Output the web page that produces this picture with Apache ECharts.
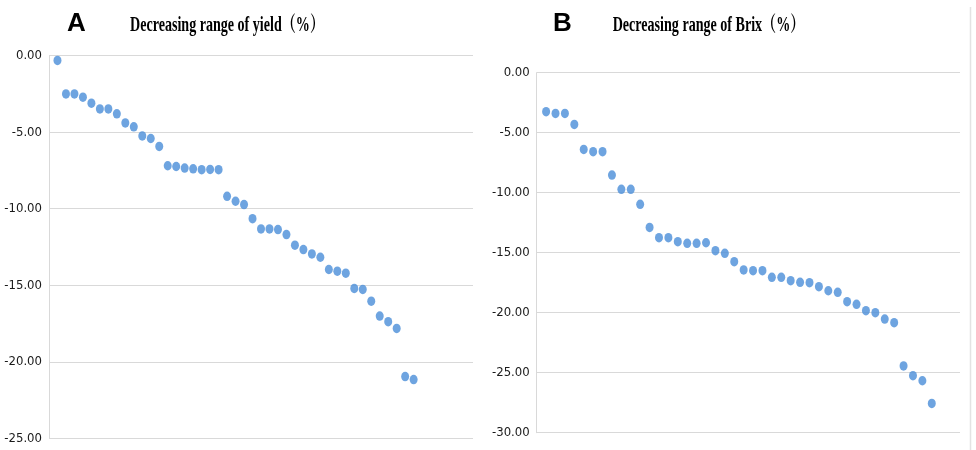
<!DOCTYPE html>
<html>
<head>
<meta charset="utf-8">
<script src="https://cdn.jsdelivr.net/npm/echarts@6/dist/echarts.min.js"></script>
<style>
html,body{margin:0;padding:0;background:#fff;}
#chart{width:976px;height:450px;}
</style>
</head>
<body>
<div id="chart"></div>
<script>
// ---- Data ----
const titleA = 'Decreasing range of yield（%）';
const titleB = 'Decreasing range of Brix（%）';
const panelLetters = ['A', 'B'];

const yieldValues = [
  -0.31, -2.50, -2.50, -2.71, -3.10, -3.48, -3.48, -3.80, -4.39, -4.65,
  -5.24, -5.41, -5.93, -7.19, -7.24, -7.34, -7.39, -7.45, -7.43, -7.45,
  -9.19, -9.51, -9.73, -10.65, -11.32, -11.32, -11.36, -11.69, -12.38, -12.67,
  -12.95, -13.17, -13.97, -14.08, -14.21, -15.21, -15.27, -16.04, -17.01, -17.38,
  -17.82, -20.97, -21.16
];

const brixValues = [
  -3.25, -3.39, -3.39, -4.31, -6.39, -6.58, -6.58, -8.53, -9.72, -9.72,
  -10.97, -12.89, -13.75, -13.75, -14.08, -14.22, -14.22, -14.17, -14.83, -15.05,
  -15.75, -16.44, -16.50, -16.50, -17.05, -17.05, -17.33, -17.47, -17.50, -17.83,
  -18.17, -18.30, -19.08, -19.30, -19.83, -20.00, -20.53, -20.83, -24.44, -25.25,
  -25.67, -27.56
];

const yieldAxis = { min: -25, max: 0, step: 5 };
const brixAxis = { min: -30, max: 0, step: 5 };
const yieldXMax = 50;
const brixXMax = 45;

// ---- Styles ----
const dotColor = '#4a8dd8';
const gridColor = '#d9d9d9';
const labelFont = "'Liberation Sans Narrow', 'DejaVu Sans Condensed', 'Liberation Sans', sans-serif";
const titleFont = "'Liberation Serif', 'Noto Serif CJK SC', 'Noto Sans CJK SC', serif";

function toPoints(arr) {
  return arr.map((v, i) => [i + 1, v]);
}

function yAxisCfg(idx, ax) {
  return {
    type: 'value',
    gridIndex: idx,
    min: ax.min,
    max: ax.max,
    interval: ax.step,
    axisLine: { show: true, lineStyle: { color: gridColor, width: 1 } },
    axisTick: { show: false },
    splitLine: { show: true, lineStyle: { color: gridColor, width: 1 } },
    axisLabel: {
      margin: 7,
      fontFamily: labelFont,
      fontSize: 13,
      color: '#1a1a1a',
      formatter: v => v.toFixed(2)
    }
  };
}

function xAxisCfg(idx, max) {
  return {
    type: 'value',
    gridIndex: idx,
    min: 0,
    max: max,
    show: false
  };
}

const chart = echarts.init(document.getElementById('chart'), null, { renderer: 'canvas' });

chart.setOption({
  backgroundColor: '#fff',
  animation: false,
  grid: [
    { left: 49, top: 55.7, width: 424, height: 382.6 },
    { left: 536.7, top: 72.7, width: 423.3, height: 360 }
  ],
  xAxis: [xAxisCfg(0, yieldXMax), xAxisCfg(1, brixXMax)],
  yAxis: [yAxisCfg(0, yieldAxis), yAxisCfg(1, brixAxis)],
  series: [
    {
      type: 'scatter',
      xAxisIndex: 0, yAxisIndex: 0,
      data: toPoints(yieldValues),
      symbol: 'circle',
      symbolSize: [8, 9.5],
      itemStyle: { color: dotColor }
    },
    {
      type: 'scatter',
      xAxisIndex: 1, yAxisIndex: 1,
      data: toPoints(brixValues),
      symbol: 'circle',
      symbolSize: [8, 9.5],
      itemStyle: { color: dotColor }
    }
  ],
  graphic: [
    {
      type: 'text', x: 67, y: 24,
      style: { text: panelLetters[0], fontFamily: "'Liberation Sans', Arial, sans-serif", fontWeight: 'bold', fontSize: 26, fill: '#000', textVerticalAlign: 'middle' }
    },
    {
      type: 'text', x: 553, y: 24,
      style: { text: panelLetters[1], fontFamily: "'Liberation Sans', Arial, sans-serif", fontWeight: 'bold', fontSize: 26, fill: '#000', textVerticalAlign: 'middle' }
    },
    {
      type: 'text', x: 130, y: 26, scaleX: 0.67,
      style: { text: titleA, fontFamily: titleFont, fontWeight: 'bold', fontSize: 21, fill: '#000', textVerticalAlign: 'middle' }
    },
    {
      type: 'text', x: 612.7, y: 26, scaleX: 0.67,
      style: { text: titleB, fontFamily: titleFont, fontWeight: 'bold', fontSize: 21, fill: '#000', textVerticalAlign: 'middle' }
    },
    {
      type: 'line',
      shape: { x1: 970.5, y1: 7, x2: 970.5, y2: 450 },
      style: { stroke: '#e3e3e3', lineWidth: 1.5 }
    }
  ]
});
</script>
</body>
</html>
